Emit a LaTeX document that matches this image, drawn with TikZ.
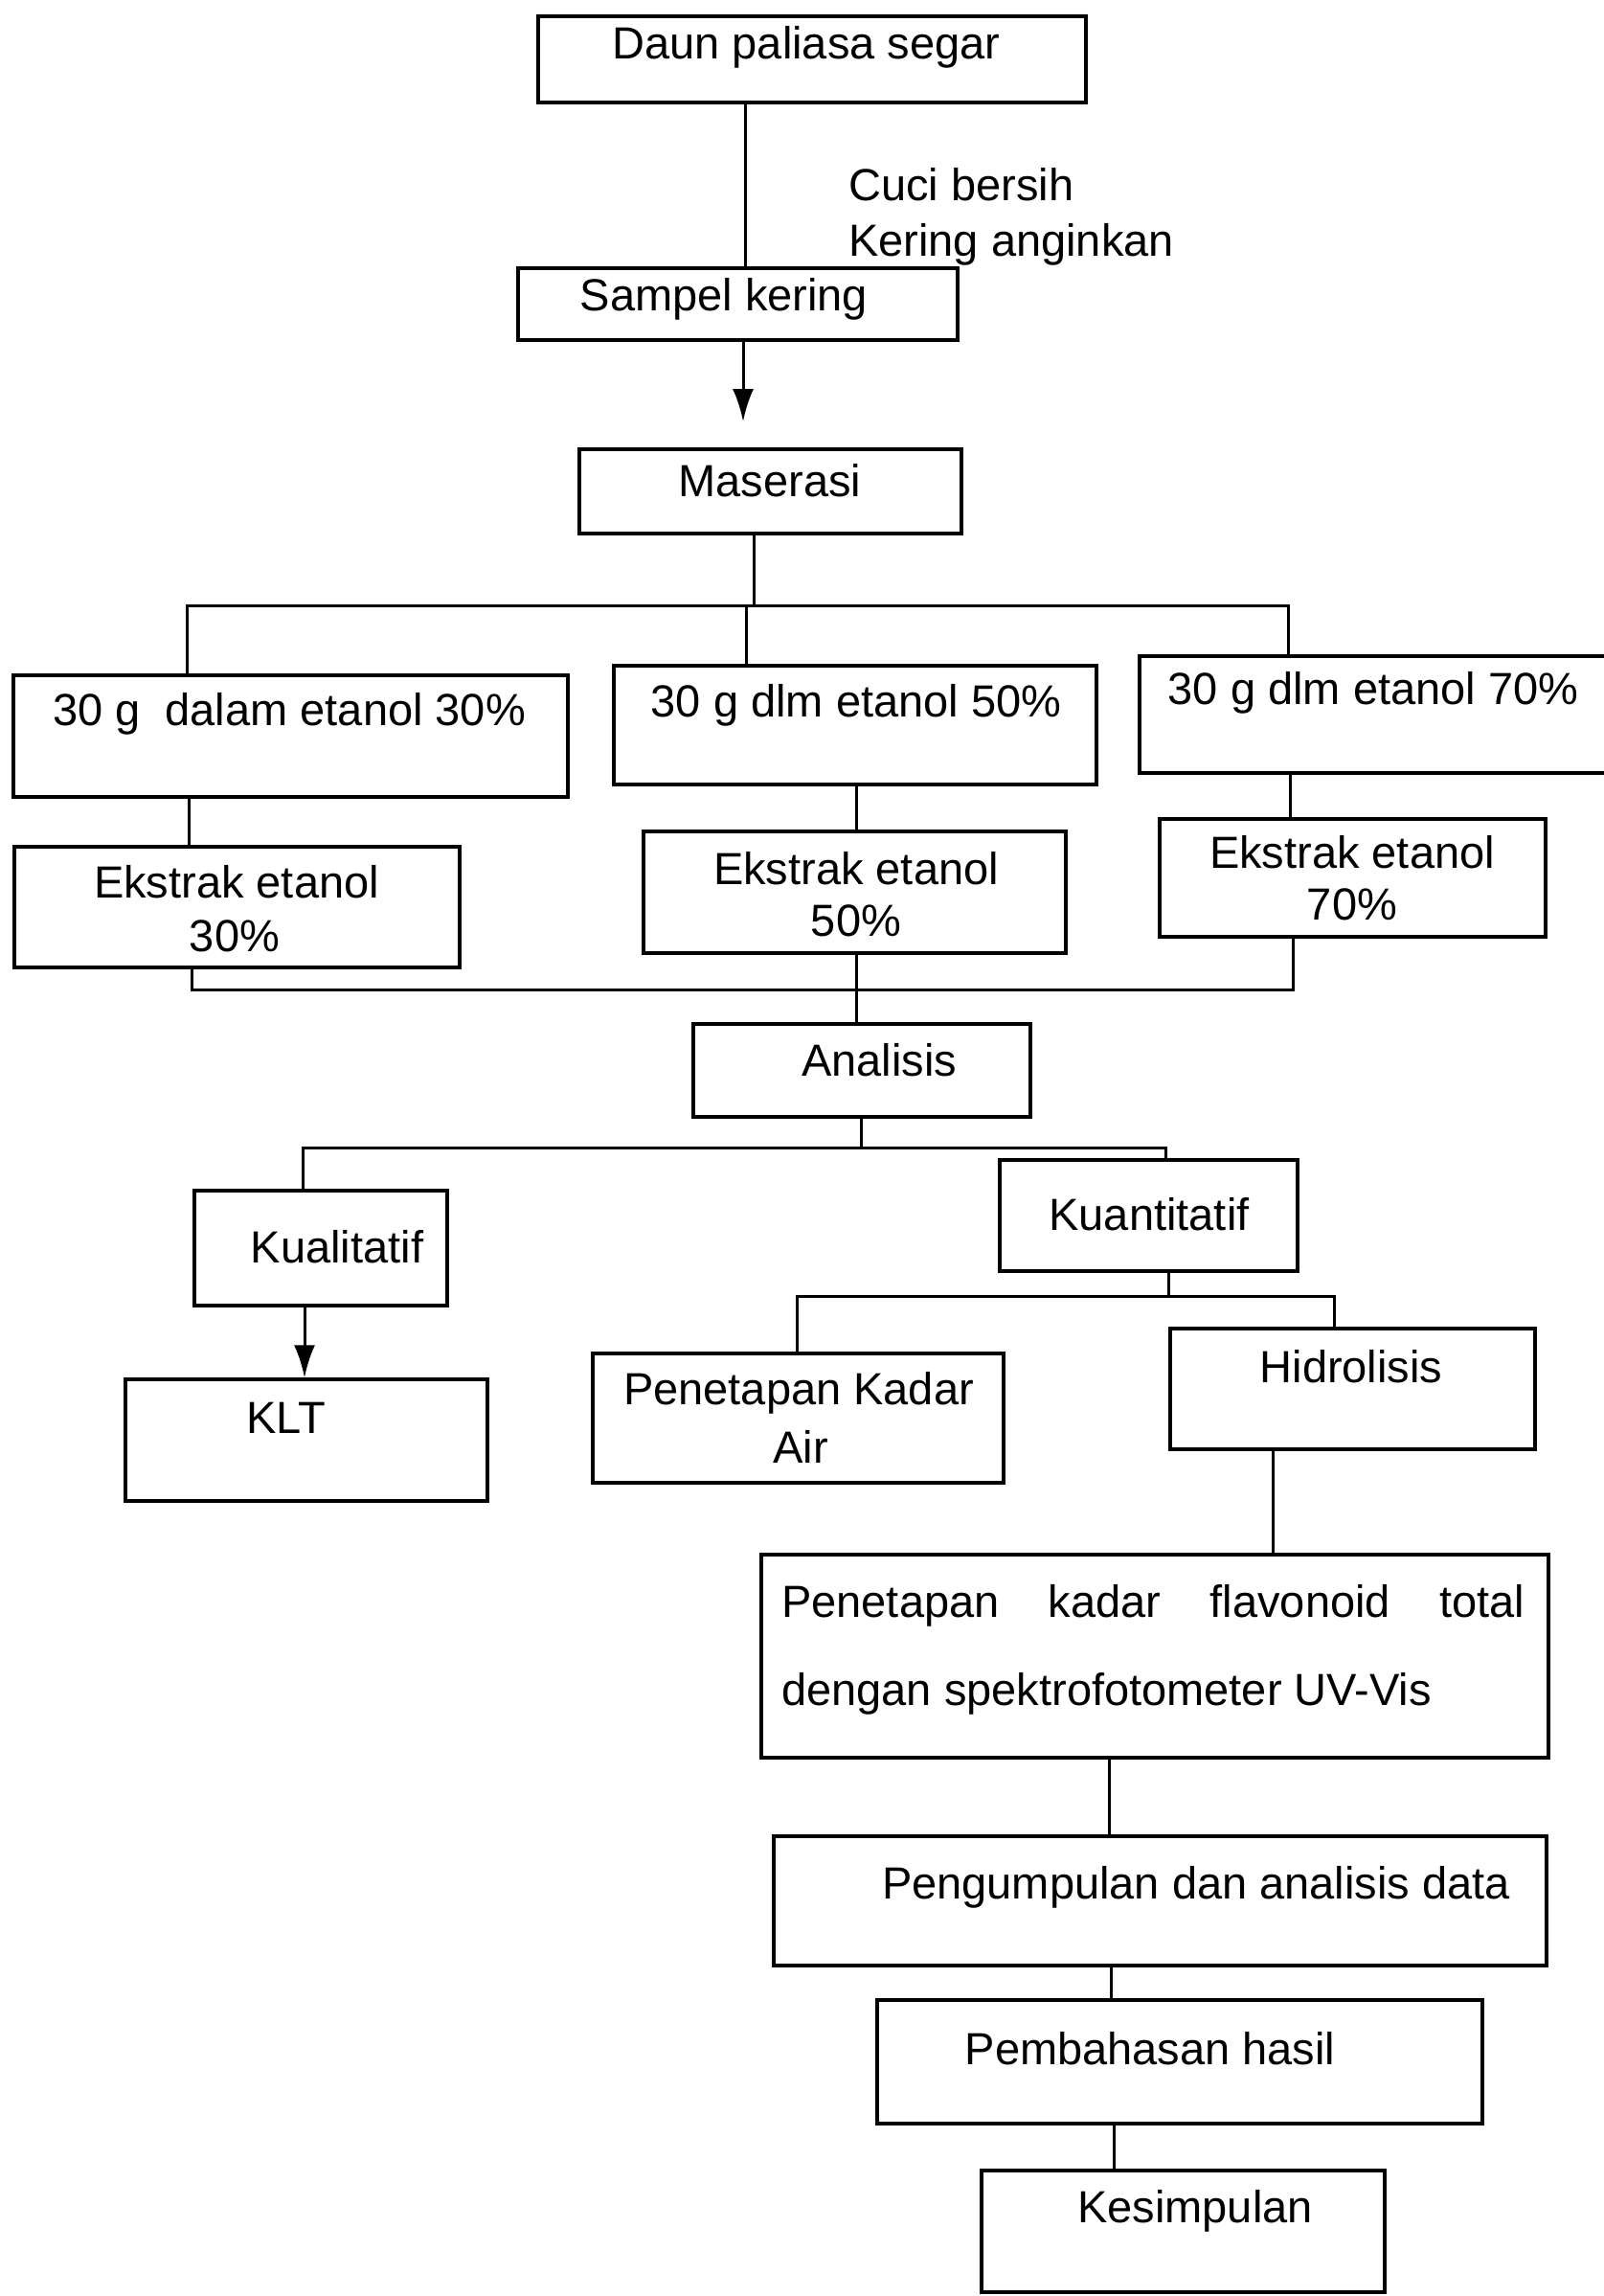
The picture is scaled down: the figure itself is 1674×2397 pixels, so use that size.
\documentclass[tikz,border=0pt]{standalone}
\usepackage{fontspec}
\setmainfont{Liberation Sans}
\usetikzlibrary{arrows.meta}
\begin{document}
\begin{tikzpicture}[x=1pt,y=-1pt,
  box/.style={draw, line width=3.4pt, rectangle, inner sep=0pt},
  lbl/.style={font=\fontsize{47}{56}\selectfont, inner sep=0pt, anchor=base},
  conn/.style={line width=3pt, line cap=rect},
  arr/.style={line width=3pt, -{Latex[length=34pt,width=22pt]}}]
\useasboundingbox (0,0) rectangle (1674,2397);

% boxes
\node[box, minimum width=572pt, minimum height=90pt]  (daun) at (848,62) {};
\node[box, minimum width=459pt, minimum height=75pt]  (sampel) at (770.5,317.5) {};
\node[box, minimum width=399pt, minimum height=88pt]  (maserasi) at (804.5,513) {};
\node[box, minimum width=579pt, minimum height=127pt] (d30) at (303.5,768.5) {};
\node[box, minimum width=504pt, minimum height=124pt] (d50) at (893,757) {};
\node[box, minimum width=500pt, minimum height=122pt] (d70) at (1440,746) {};
\node[box, minimum width=465pt, minimum height=126pt] (e30) at (247.5,947) {};
\node[box, minimum width=441pt, minimum height=127pt] (e50) at (892.5,931.5) {};
\node[box, minimum width=403pt, minimum height=123pt] (e70) at (1412.5,916.5) {};
\node[box, minimum width=352pt, minimum height=97pt]  (analisis) at (900,1117.5) {};
\node[box, minimum width=264pt, minimum height=120pt] (kual) at (335,1303) {};
\node[box, minimum width=311pt, minimum height=116pt] (kuan) at (1199.5,1269) {};
\node[box, minimum width=378pt, minimum height=127pt] (klt) at (320,1503.5) {};
\node[box, minimum width=429pt, minimum height=135pt] (pka) at (833.5,1480.5) {};
\node[box, minimum width=381pt, minimum height=126pt] (hid) at (1412.5,1450) {};
\node[box, minimum width=822pt, minimum height=212pt] (flav) at (1206,1729) {};
\node[box, minimum width=807pt, minimum height=135pt] (peng) at (1211.5,1984.5) {};
\node[box, minimum width=632pt, minimum height=129pt] (pemb) at (1232,2152.5) {};
\node[box, minimum width=421pt, minimum height=127pt] (kes) at (1235.5,2329.5) {};

% texts
\node[lbl] (tdaun) at (842,62) {Daun paliasa segar};
\node[lbl, anchor=base west] (tcuci) at (886,210) {Cuci bersih};
\node[lbl, anchor=base west] (tkering) at (886,268) {Kering anginkan};
\node[lbl] (tsampel) at (756,324) {Sampel kering};
\node[lbl] (tmaserasi) at (804,518) {Maserasi};
\node[lbl] (td30) at (302,757) {30 g\ \ dalam etanol 30\%};
\node[lbl] (td50) at (894,748) {30 g dlm etanol 50\%};
\node[lbl] (td70) at (1434,735) {30 g dlm etanol 70\%};
\node[lbl] (te30a) at (247,937) {Ekstrak etanol};
\node[lbl] (te30b) at (245,993) {30\%};
\node[lbl] (te50a) at (894,923) {Ekstrak etanol};
\node[lbl] (te50b) at (894,977) {50\%};
\node[lbl] (te70a) at (1412,906) {Ekstrak etanol};
\node[lbl] (te70b) at (1412,960) {70\%};
\node[lbl] (tanalisis) at (918,1123) {Analisis};
\node[lbl] (tkual) at (352,1318) {Kualitatif};
\node[lbl] (tkuan) at (1200,1284) {Kuantitatif};
\node[lbl] (tklt) at (299,1496) {KLT};
\node[lbl] (tpka1) at (834,1466) {Penetapan Kadar};
\node[lbl] (tpka2) at (836,1527) {Air};
\node[lbl] (thid) at (1411,1443) {Hidrolisis};
\node[lbl, anchor=base west] (tflav1) at (816,1688) {\makebox[776pt][s]{Penetapan\hfill kadar\hfill flavonoid\hfill total}};
\node[lbl, anchor=base west] (tflav2) at (816,1780) {dengan spektrofotometer UV-Vis};
\node[lbl] (tpeng) at (1249,1982) {Pengumpulan dan analisis data};
\node[lbl] (tpemb) at (1201,2155) {Pembahasan hasil};
\node[lbl] (tkes) at (1248,2320) {Kesimpulan};

% helper coordinates
\coordinate (x1) at (778,0);
\coordinate (a1) at (776,440);
\coordinate (m1) at (787,632);
\coordinate (b1l) at (195,632);
\coordinate (b1m) at (779,632);
\coordinate (b1r) at (1345,632);
\coordinate (x30) at (197,0);
\coordinate (x50) at (894,0);
\coordinate (x70) at (1347,0);
\coordinate (c1l) at (200,1033);
\coordinate (c1r) at (1350,1033);
\coordinate (b2m) at (899,1198);
\coordinate (b2l) at (316,1198);
\coordinate (b2r) at (1217,1198);
\coordinate (xk) at (318,0);
\coordinate (b3m) at (1220,1353);
\coordinate (b3l) at (832,1353);
\coordinate (b3r) at (1393,1353);
\coordinate (xh) at (1329,0);
\coordinate (xf) at (1158,0);
\coordinate (xp) at (1160,0);
\coordinate (xq) at (1163,0);

% connectors
\draw[conn] (daun.south -| x1) -- (sampel.north -| x1);
\draw[arr] (sampel.south -| a1) -- (a1);
\draw[conn] (maserasi.south -| m1) -- (m1);
\draw[conn] (d30.north -| b1l) -- (b1l) -- (b1r) -- (d70.north -| b1r);
\draw[conn] (b1m) -- (d50.north -| b1m);
\draw[conn] (d30.south -| x30) -- (e30.north -| x30);
\draw[conn] (d50.south -| x50) -- (e50.north -| x50);
\draw[conn] (d70.south -| x70) -- (e70.north -| x70);
\draw[conn] (e30.south -| c1l) -- (c1l) -- (c1r) -- (e70.south -| c1r);
\draw[conn] (e50.south -| x50) -- (analisis.north -| x50);
\draw[conn] (analisis.south -| b2m) -- (b2m);
\draw[conn] (kual.north -| b2l) -- (b2l) -- (b2r) -- (kuan.north -| b2r);
\draw[arr] (kual.south -| xk) -- (klt.north -| xk);
\draw[conn] (kuan.south -| b3m) -- (b3m);
\draw[conn] (pka.north -| b3l) -- (b3l) -- (b3r) -- (hid.north -| b3r);
\draw[conn] (hid.south -| xh) -- (flav.north -| xh);
\draw[conn] (flav.south -| xf) -- (peng.north -| xf);
\draw[conn] (peng.south -| xp) -- (pemb.north -| xp);
\draw[conn] (pemb.south -| xq) -- (kes.north -| xq);
\end{tikzpicture}
\end{document}
